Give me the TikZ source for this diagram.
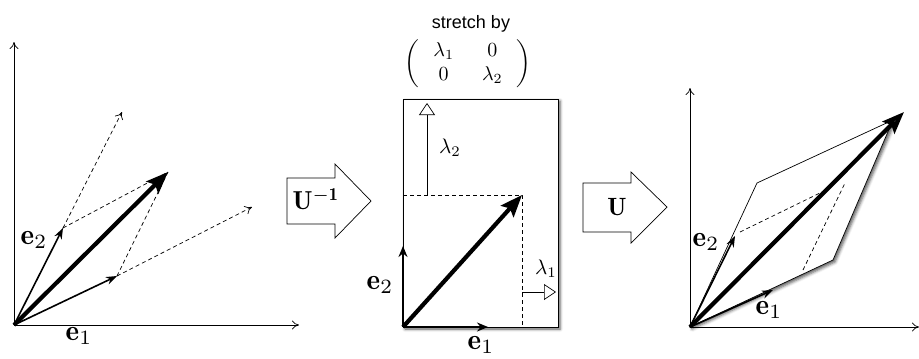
\documentclass[tikz,border=0pt]{standalone}
\usepackage{fontspec}
\newfontfamily\helv{Liberation Sans}
\usetikzlibrary{arrows.meta,shadows.blur}
\begin{document}
\begin{tikzpicture}[x=1pt,y=-1pt,
  axis/.style={line width=0.7pt,-{To[length=7pt,width=9pt]}},
  vec/.style={line width=1.6pt,-{Stealth[length=11pt,width=8pt]}},
  midvec/.style={line width=2.6pt,-{Stealth[length=11pt,width=9pt]}},
  bigvec/.style={line width=4.2pt,-{Stealth[length=22pt,width=17pt,inset=4pt]}},
  dsh/.style={line width=0.7pt,dash pattern=on 4pt off 3pt},
  dsharr/.style={dsh,-{To[length=7pt,width=9pt]}},
  lbl/.style={scale=2.9,inner sep=0pt},
  lam/.style={scale=2.1,inner sep=0pt},
  fatarrow/.style={draw,line width=0.7pt,fill=white},
  openhead/.style={line width=0.7pt,-{Triangle[open,length=12pt,width=16pt]}},
  shad/.style={blur shadow={shadow xshift=2pt,shadow yshift=-2pt,shadow blur radius=3pt,shadow opacity=65}}
]
\useasboundingbox (0,0) rectangle (919,359);

% ---------- left panel ----------
\coordinate (O1) at (14,325);
\coordinate (Y1) at (14,42);
\coordinate (X1) at (299,325);
\coordinate (P1) at (117,276);
\coordinate (P2) at (63,228);
\coordinate (S1) at (168,172);
\coordinate (D1) at (122,112);
\coordinate (D2) at (252,207);
\draw[axis] (O1) -- (Y1);
\draw[axis] (O1) -- (X1);
\draw[dsharr] (P2) -- (D1);
\draw[dsharr] (P1) -- (D2);
\draw[dsh] (P2) -- (S1);
\draw[dsh] (P1) -- (S1);
\draw[vec] (O1) -- (P1);
\draw[vec] (O1) -- (P2);
\draw[bigvec] (O1) -- (S1);
\node[lbl] (le2) at (34,240) {$\mathbf{e}_2$};
\node[lbl] (le1) at (79,336) {$\mathbf{e}_1$};

% ---------- U^{-1} arrow ----------
\draw[fatarrow] (287,178) -- (335,178) -- (335,164) -- (371,201) -- (335,238) -- (335,224) -- (287,224) -- cycle;
\node[scale=2.6,inner sep=0pt] (uinv) at (316,199) {$\mathbf{U^{-1}}$};

% ---------- middle panel ----------
\node[draw,line width=0.7pt,fill=white,shad,minimum width=155pt,minimum height=228pt,inner sep=0pt] (box) at (480.5,213) {};
\coordinate (O2) at (403,327);
\coordinate (E1m) at (488,327);
\coordinate (E2m) at (403,246);
\coordinate (S2) at (522,195);
\coordinate (L2) at (403,195);
\coordinate (B2) at (522,327);
\coordinate (R2) at (523,327);
\coordinate (la2s) at (427,195);
\coordinate (la2e) at (427,103);
\coordinate (la1s) at (522,292);
\coordinate (la1e) at (556,292);
\draw[dsh] (L2) -- (S2) -- (B2);
\draw[dsh] (E1m) -- (R2);
\draw[openhead] (la2s) -- (la2e);
\draw[openhead] (la1s) -- (la1e);
\draw[midvec] (O2) -- (E1m);
\draw[midvec] (O2) -- (E2m);
\draw[bigvec] (O2) -- (S2);
\node[lam] (tl2) at (450,148) {$\lambda_2$};
\node[lam] (tl1) at (546,269) {$\lambda_1$};
\node[lbl] (me2) at (380,285) {$\mathbf{e}_2$};
\node[lbl] (me1) at (481,345) {$\mathbf{e}_1$};
\node[font=\helv\fontsize{18}{20}\selectfont,inner sep=0pt] (stretch) at (471,24) {stretch by};
\node[scale=2.0,inner sep=0pt] (mat) at (468,64)
  {$\setlength{\arraycolsep}{7pt}\left(\begin{array}{cc}\lambda_1 & 0\\ 0 & \lambda_2\end{array}\right)$};

% ---------- U arrow ----------
\draw[fatarrow] (583,183) -- (631,183) -- (631,172) -- (667,207) -- (631,243) -- (631,232) -- (583,232) -- cycle;
\node[scale=2.5,inner sep=0pt] (u) at (617,207) {$\mathbf{U}$};

% ---------- right panel ----------
\coordinate (O3) at (690,327);
\coordinate (Y3) at (690,88);
\coordinate (X3) at (919,327);
\coordinate (A3) at (833,260);
\coordinate (B3) at (893,120);
\coordinate (C3) at (757,183);
\coordinate (S3) at (904,112);
\coordinate (E1r) at (773,290);
\coordinate (E2r) at (735,236);
\coordinate (Q1) at (740,232);
\coordinate (Q2) at (822,192);
\coordinate (Q3) at (803,270);
\coordinate (Q4) at (845,183);
\draw[axis] (O3) -- (Y3);
\draw[axis] (O3) -- (X3);
\draw[line width=0.7pt,fill=white,shad] (O3) -- (A3) -- (B3) -- (C3) -- cycle;
\draw[dsh] (Q1) -- (Q2);
\draw[dsh] (Q3) -- (Q4);
\draw[vec] (O3) -- (E1r);
\draw[vec] (O3) -- (E2r);
\draw[bigvec] (O3) -- (S3);
\node[lbl] (re2) at (706,242) {$\mathbf{e}_2$};
\node[lbl] (re1) at (769,310) {$\mathbf{e}_1$};
\end{tikzpicture}
\end{document}
